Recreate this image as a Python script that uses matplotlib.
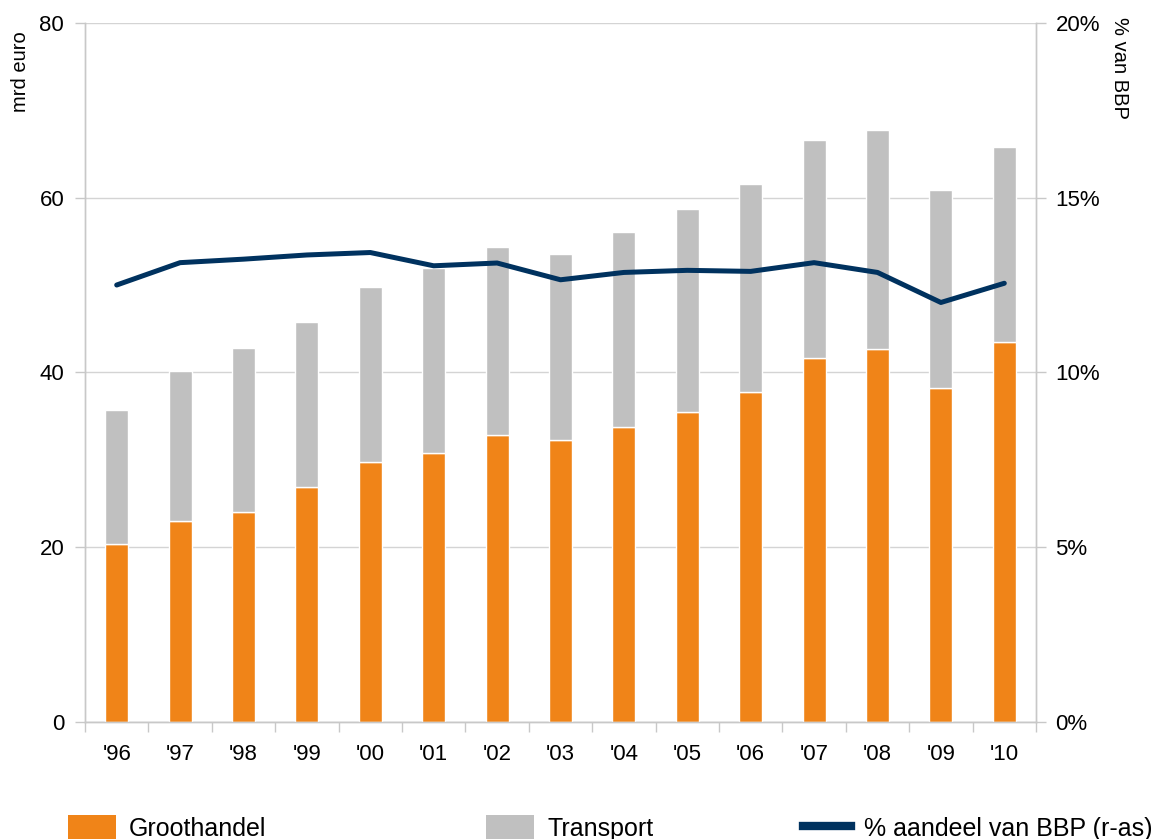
import matplotlib
matplotlib.use("Agg")
import matplotlib.pyplot as plt
from matplotlib.patches import Patch
from matplotlib.lines import Line2D
from matplotlib.ticker import FuncFormatter
import numpy as np

plt.rcParams["font.family"] = ["Liberation Sans", "DejaVu Sans"]

years = ["'96", "'97", "'98", "'99", "'00", "'01", "'02", "'03",
         "'04", "'05", "'06", "'07", "'08", "'09", "'10"]
groothandel = [20.4, 23.0, 24.0, 26.9, 29.7, 30.8, 32.8, 32.2,
               33.7, 35.5, 37.8, 41.6, 42.7, 38.2, 43.5]
transport = [15.3, 17.2, 18.8, 18.9, 20.1, 21.1, 21.5, 21.3,
             22.4, 23.2, 23.8, 25.0, 25.1, 22.7, 22.3]
aandeel_bbp = [12.5, 13.14, 13.24, 13.36, 13.43, 13.05, 13.13, 12.65,
               12.86, 12.92, 12.89, 13.14, 12.86, 12.0, 12.55]

ORANGE = "#f08418"
GREY = "#c0c0c0"
NAVY = "#00325f"
AXGREY = "#c8c8c8"

fig = plt.figure(figsize=(11.53, 8.39), dpi=100)
ax = fig.add_axes([85 / 1153, 1 - 721.7 / 839, 951 / 1153, 698.7 / 839])
ax2 = ax.twinx()

x = np.arange(len(years))
w = 0.36
ax.bar(x, groothandel, w, color=ORANGE, edgecolor="white", lw=1, zorder=3)
ax.bar(x, transport, w, bottom=groothandel, color=GREY, edgecolor="white", lw=1, zorder=3)
ax2.plot(x, aandeel_bbp, color=NAVY, lw=3.6, solid_capstyle="round",
         solid_joinstyle="round", zorder=4)

ax.set_xlim(-0.5, len(years) - 0.5)
ax.set_ylim(0, 80)
ax.set_yticks([0, 20, 40, 60, 80])
ax2.set_ylim(0, 20)
ax2.set_yticks([0, 5, 10, 15, 20])
ax2.yaxis.set_major_formatter(FuncFormatter(lambda v, p: f"{v:.0f}%"))

ax.grid(axis="y", color="#d4d4d4", lw=1, zorder=0)
ax.set_axisbelow(True)

ax.set_xticks(x)
ax.set_xticklabels(years)
ax.set_xticks(np.arange(-0.5, len(years)), minor=True)
ax.tick_params(axis="x", which="major", length=0, pad=16, labelsize=16)
ax.tick_params(axis="x", which="minor", length=7, width=1, color=AXGREY)
ax.tick_params(axis="y", length=7, width=1, color=AXGREY, pad=8, labelsize=16)
ax2.tick_params(axis="y", length=7, width=1, color=AXGREY, pad=7, labelsize=16)

for a in (ax, ax2):
    a.spines["top"].set_visible(False)
    for s in ("left", "right", "bottom"):
        a.spines[s].set_color(AXGREY)
        a.spines[s].set_linewidth(1)

fig.text(20 / 1153, 1 - 31 / 839, "mrd euro", rotation=90, ha="center", va="top", fontsize=14.5)
fig.text(1119 / 1153, 1 - 17 / 839, "% van BBP", rotation=-90, ha="center", va="top", fontsize=14.5)

# legend: three separate entries placed along the bottom edge
entries = [
    (Patch(facecolor=ORANGE, edgecolor="none"), "Groothandel", 68),
    (Patch(facecolor=GREY, edgecolor="none"), "Transport", 486),
    (Line2D([], [], color=NAVY, lw=6), "% aandeel van BBP (r-as)", 803),
]
for h, lab, px in entries:
    lg = fig.legend([h], [lab], loc="center left",
                    bbox_to_anchor=(px / 1153, 1 - 828 / 839),
                    frameon=False, fontsize=18, borderpad=0, borderaxespad=0,
                    handlelength=1.9, handleheight=1.1, handletextpad=0.55)

fig.savefig("out.png", dpi=100)
